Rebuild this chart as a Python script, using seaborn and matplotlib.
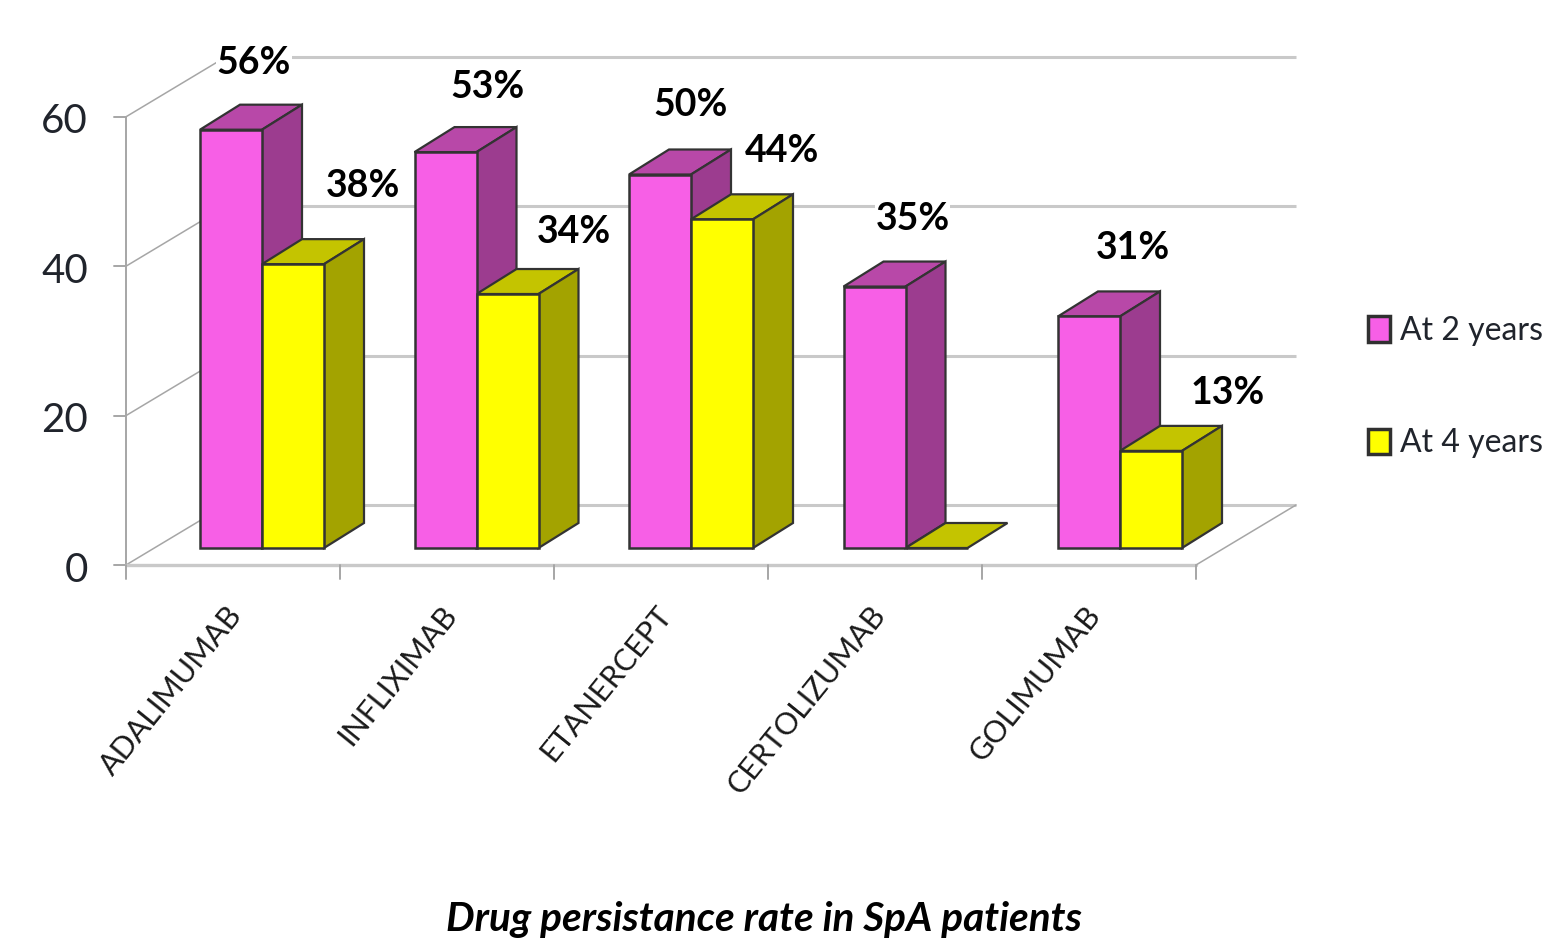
import matplotlib
matplotlib.use("Agg")
import matplotlib.pyplot as plt
from matplotlib.patches import Patch, Polygon
import pandas as pd
import seaborn as sns

# Persistence rates (%)
drugs = ["ADALIMUMAB", "INFLIXIMAB", "ETANERCEPT", "CERTOLIZUMAB", "GOLIMUMAB"]
at_2_years = [56, 53, 50, 35, 31]
at_4_years = [38, 34, 44, 0, 13]
series_names = ["At 2 years", "At 4 years"]
y_ticks = [0, 20, 40, 60]
title = "Drug persistance rate in SpA patients"

FIG_W, FIG_H = 1546, 939
PX_PER_CAT = 214.5
PX_PER_UNIT = 7.47
ORIGIN_X, ORIGIN_Y = 262, 548       # centre of first group, base of the bars
FLOOR_STEP = 214 / PX_PER_CAT       # spacing of the floor ticks

# Depth vectors of the pseudo-3D projection, in data units
BAR_DX, BAR_DY = 40 / PX_PER_CAT, 25 / PX_PER_UNIT
WALL_DX, WALL_DY = 100 / PX_PER_CAT, 60 / PX_PER_UNIT
# Front-left corner of the floor relative to the bar base
FLOOR_X0 = (126 - ORIGIN_X) / PX_PER_CAT
FLOOR_Y0 = (ORIGIN_Y - 565) / PX_PER_UNIT
BAR_W = 62 / PX_PER_CAT

FRONT = ["#F75FE6", "#FFFF00"]
TOP = ["#B848A8", "#C4C400"]
SIDE = ["#9C3C8F", "#A3A300"]
EDGE = "#333333"
GRID = "#c9c9c9"
AXIS = "#a6a6a6"
TEXT = "#20242c"

# Offset of each value label from the top centre of its bar, in pixels
label_shift = {
    0: [(23, -67), (42, -65), (31, -70), (38, -68), (44, -68)],
    1: [(70, -78), (66, -62), (60, -68), (0, 0), (77, -58)],
}

sns.set_theme(style="white")
plt.rcParams["font.family"] = ["Lato", "DejaVu Sans"]

fig = plt.figure(figsize=(FIG_W / 100, FIG_H / 100), dpi=100)
ax = fig.add_axes([0, 0, 1, 1])

df = pd.DataFrame({
    "drug": drugs * 2,
    "series": [series_names[0]] * len(drugs) + [series_names[1]] * len(drugs),
    "rate": at_2_years + at_4_years,
})
sns.barplot(
    data=df, x="drug", y="rate", hue="series", order=drugs, hue_order=series_names,
    palette=FRONT, width=2 * BAR_W, gap=0, dodge=True, saturation=1, legend=False,
    edgecolor=EDGE, linewidth=1.8, zorder=6, ax=ax, errorbar=None,
)

ax.set_xlim(-ORIGIN_X / PX_PER_CAT, (FIG_W - ORIGIN_X) / PX_PER_CAT)
ax.set_ylim((ORIGIN_Y - FIG_H) / PX_PER_UNIT, ORIGIN_Y / PX_PER_UNIT)
ax.axis("off")

# Back wall gridlines, side-wall diagonals, y axis and ticks
n = len(drugs)
x_end = FLOOR_X0 + n * FLOOR_STEP
tick_len_x = 12 / PX_PER_CAT
tick_len_y = 14 / PX_PER_UNIT
for t in y_ticks:
    y = FLOOR_Y0 + t
    ax.plot([FLOOR_X0 + WALL_DX, x_end + WALL_DX], [y + WALL_DY] * 2,
            color=GRID, lw=2.2, zorder=1, solid_capstyle="butt")
    ax.plot([FLOOR_X0, FLOOR_X0 + WALL_DX], [y, y + WALL_DY], color=AXIS, lw=1.1, zorder=1)
    ax.plot([FLOOR_X0 - tick_len_x, FLOOR_X0], [y, y], color=AXIS, lw=1.4, zorder=1)
    ax.text(FLOOR_X0 - 38 / PX_PER_CAT, y - 5 / PX_PER_UNIT, str(t), ha="right", va="center",
            fontsize=29, color=TEXT, zorder=8)
ax.plot([FLOOR_X0, FLOOR_X0], [FLOOR_Y0, FLOOR_Y0 + y_ticks[-1]], color=AXIS, lw=1.4, zorder=1)

# Floor edges and category ticks
ax.plot([FLOOR_X0, x_end], [FLOOR_Y0, FLOOR_Y0], color=GRID, lw=2.4, zorder=1)
ax.plot([x_end, x_end + WALL_DX], [FLOOR_Y0, FLOOR_Y0 + WALL_DY], color=AXIS, lw=1.1, zorder=1)
for i in range(n + 1):
    ax.plot([FLOOR_X0 + i * FLOOR_STEP] * 2, [FLOOR_Y0, FLOOR_Y0 - tick_len_y],
            color=AXIS, lw=1.4, zorder=2)

# Depth faces of the bars, rear series' faces under the front series'
for s, values in enumerate([at_2_years, at_4_years]):
    for i, v in enumerate(values):
        x0 = i + (s - 1) * BAR_W
        x1 = x0 + BAR_W
        top = [(x0, v), (x1, v), (x1 + BAR_DX, v + BAR_DY), (x0 + BAR_DX, v + BAR_DY)]
        ax.add_patch(Polygon(top, closed=True, fc=TOP[s], ec=EDGE, lw=1.6, zorder=3 + s))
        if v > 0:
            side = [(x1, 0), (x1 + BAR_DX, BAR_DY), (x1 + BAR_DX, v + BAR_DY), (x1, v)]
            ax.add_patch(Polygon(side, closed=True, fc=SIDE[s], ec=EDGE, lw=1.6, zorder=3 + s))
            # value labels interrupt the gridlines they cross
            ax.text(x0 + BAR_W / 2 + label_shift[s][i][0] / PX_PER_CAT,
                    v - label_shift[s][i][1] / PX_PER_UNIT, f"{v}%",
                    ha="center", va="center", fontsize=27, fontweight="bold",
                    color="black", zorder=2.5,
                    bbox=dict(fc="white", ec="none", pad=0.5))

# Category labels, slanted up towards the axis
for i, name in enumerate(drugs):
    ax.text(i + (226 - ORIGIN_X) / PX_PER_CAT, (ORIGIN_Y - 601) / PX_PER_UNIT, name,
            rotation=51, rotation_mode="anchor", ha="right", va="top",
            fontsize=22, color="#1a1a1a", zorder=8)

# Legend, right of the plot
handles = [Patch(fc=FRONT[i], ec="#303030", lw=2.5, label=series_names[i]) for i in range(2)]
ax.legend(handles=handles, loc="upper left", frameon=False,
          bbox_to_anchor=(1368 / FIG_W, 1 - 316 / FIG_H), bbox_transform=fig.transFigure,
          fontsize=23, handlelength=0.7, handleheight=0.85, handletextpad=0.3,
          labelspacing=2.58, borderpad=0, borderaxespad=0, labelcolor=TEXT)

ax.text((764 - ORIGIN_X) / PX_PER_CAT, (ORIGIN_Y - 920) / PX_PER_UNIT, title,
        ha="center", va="center", fontsize=29.2, fontweight="bold", fontstyle="italic",
        color="black", clip_on=True)

fig.savefig("out.png", dpi=100, facecolor="white")
